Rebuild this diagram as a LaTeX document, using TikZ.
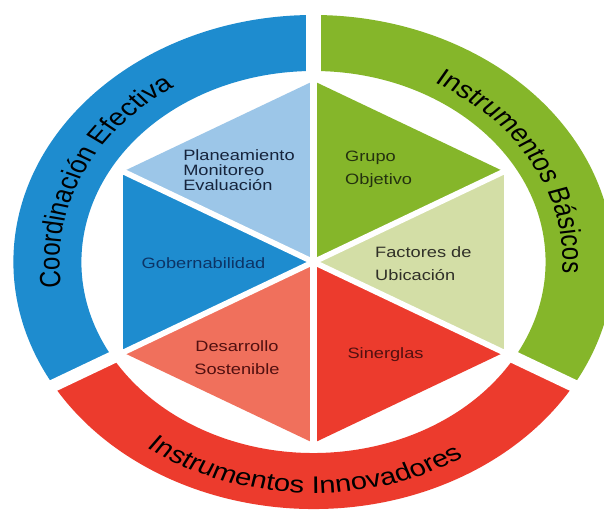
\documentclass[tikz,border=0pt]{standalone}
\usepackage{fontspec}
\setmainfont{Liberation Sans}
\usetikzlibrary{decorations.text}
\definecolor{ringblue}{HTML}{1E8CCF}
\definecolor{lightblue}{HTML}{9CC6E8}
\definecolor{ringgreen}{HTML}{85B62A}
\definecolor{palegreen}{HTML}{D3DEA6}
\definecolor{ringred}{HTML}{EC3B2D}
\definecolor{salmon}{HTML}{F0705C}
\definecolor{txtblue}{HTML}{16243C}
\definecolor{txtnavy}{HTML}{0C3466}
\definecolor{txtgreen}{HTML}{24320F}
\definecolor{txtgray}{HTML}{303028}
\definecolor{txtred}{HTML}{521010}
\newcommand{\ringfont}{\fontsize{24}{28}\selectfont}
\begin{document}
\begin{tikzpicture}[x=1pt,y=1pt,
  lbl/.style={inner sep=0pt, font=\fontsize{15}{23}\selectfont},
  ringtxt/.style={decorate, decoration={text along path, text align=center, text={|\ringfont|#1}}},
  ringgap/.style={white, line width=12pt},
  hexgap/.style={white, line width=5.5pt}]
\fill[white] (-313.5,-247) rectangle (290.5,262);
\useasboundingbox (-313.5,-247) rectangle (290.5,262);
\begin{scope}[transform canvas={xscale=1.215}]
  % outer ring
  \fill[ringblue] (90:247) arc[start angle=90,end angle=210,radius=247] -- (210:191) arc[start angle=210,end angle=90,radius=191] -- cycle;
  \fill[ringgreen] (-30:247) arc[start angle=-30,end angle=90,radius=247] -- (90:191) arc[start angle=90,end angle=-30,radius=191] -- cycle;
  \fill[ringred] (210:247) arc[start angle=210,end angle=330,radius=247] -- (330:191) arc[start angle=330,end angle=210,radius=191] -- cycle;
  \foreach \a in {90,210,330} \draw[ringgap] (\a:185) -- (\a:255);
  % hexagon
  \coordinate (c) at (0,0);
  \foreach \a in {30,90,...,330} \coordinate (v\a) at (\a:181);
  \fill[ringgreen] (c) -- (v30) -- (v90) -- cycle;
  \fill[lightblue] (c) -- (v90) -- (v150) -- cycle;
  \fill[ringblue] (c) -- (v150) -- (v210) -- cycle;
  \fill[salmon] (c) -- (v210) -- (v270) -- cycle;
  \fill[ringred] (c) -- (v270) -- (v330) -- cycle;
  \fill[palegreen] (c) -- (v330) -- (v30) -- cycle;
  \foreach \a in {30,90,...,330} \draw[hexgap] (c) -- (\a:186);
  % labels
  \node[lbl, anchor=west, align=left, text=txtblue, font=\fontsize{15}{15}\selectfont] (plan) at (-107.4,92) {Planeamiento\\Monitoreo\\Evaluación};
  \node[lbl, anchor=west, align=left, text=txtgreen] (grupo) at (25.9,92.5) {Grupo\\Objetivo};
  \node[lbl, text=txtnavy] (gob) at (-90.5,-1) {Gobernabilidad};
  \node[lbl, anchor=west, align=left, text=txtgray] (fact) at (50.6,-1.5) {Factores de\\Ubicación};
  \node[lbl, align=center, text=txtred] (desa) at (-63,-95.5) {Desarrollo\\Sostenible};
  \node[lbl, text=txtred] (siner) at (59.3,-93) {Sinerglas};
  % ring texts
  \path[ringtxt={Coordinación Efectiva}] (215:209) arc[start angle=215,end angle=95,radius=209];
  \path[ringtxt={Instrumentos Básicos}] (88:205) arc[start angle=88,end angle=-30,radius=205];
  \path[ringtxt={Instrumentos Innovadores}] (200:231) arc[start angle=200,end angle=336,radius=231];
\end{scope}
\end{tikzpicture}
\end{document}
